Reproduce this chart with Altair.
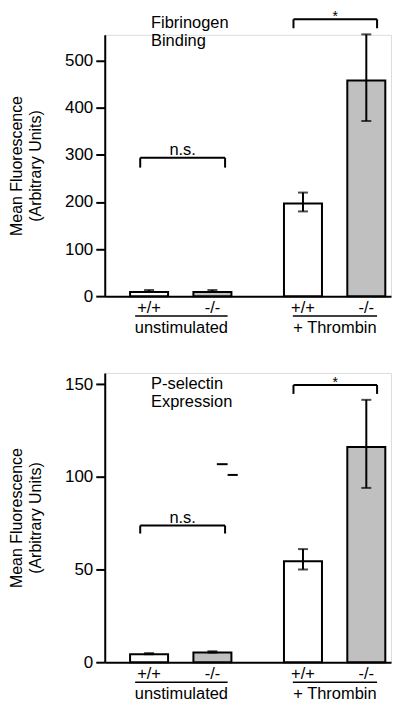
import altair as alt
import pandas as pd

# ---- data ----
genotypes = ["+/+", "-/-", "+/+", "-/-"]
conditions = ["unstimulated", "unstimulated", "+ Thrombin", "+ Thrombin"]
x_pos = [1.0, 2.0, 3.43, 4.43]

fib_mean = [9, 9, 197, 458]
fib_lo = [9, 9, 180, 372]
fib_hi = [13, 13, 220, 556]

psel_mean = [4.3, 5.2, 54.5, 116]
psel_lo = [4.3, 5.2, 50, 94]
psel_hi = [4.9, 5.9, 61, 141.5]

group_names = ["unstimulated", "+ Thrombin"]
group_start = [0.78, 3.27]
group_end = [2.24, 4.60]

sig_labels = ["n.s.", "*"]
sig_start = [0.86, 3.28]
sig_end = [2.20, 4.60]
fib_sig_y = [294, 588]
fib_sig_drop = [273, 569]
psel_sig_y = [73.7, 149.5]
psel_sig_drop = [69.4, 144.7]

psel_marks_x = [2.07, 2.24]
psel_marks_x2 = [2.24, 2.40]
psel_marks_y = [106.8, 101]

FONT = "Liberation Sans"
FS = 16.5
XS = alt.Scale(domain=[0.3, 4.82], nice=False, zero=False)
Y_TITLE = ["Mean Fluorescence", "(Arbitrary Units)"]


def panel(mean, lo, hi, ymax, ticks, title, title_y, sig_y, sig_drop, height,
          extra=None):
    ys = alt.Scale(domain=[0, ymax], nice=False, zero=False)
    df = pd.DataFrame({
        "x": x_pos,
        "xa": [p - 0.3 for p in x_pos],
        "xb": [p + 0.3 for p in x_pos],
        "mean": mean, "lo": lo, "hi": hi,
        "genotype": genotypes, "condition": conditions,
    })
    base = alt.Chart(df)
    bars = base.mark_rect(stroke="black", strokeWidth=2).encode(
        x=alt.X("xa:Q", scale=XS,
                axis=alt.Axis(labels=False, ticks=False, title=None, grid=False,
                              domainColor="black", domainWidth=2)),
        x2="xb:Q",
        y=alt.Y("mean:Q", scale=ys,
                axis=alt.Axis(values=ticks, grid=False, title=Y_TITLE,
                              tickSize=9, tickWidth=2, tickColor="black",
                              domainColor="black", domainWidth=2,
                              labelFontSize=17, labelFont=FONT, labelColor="black",
                              labelPadding=3,
                              titleFontSize=16, titleFont=FONT, titleColor="black",
                              titleFontWeight="normal", titleLineHeight=19,
                              titlePadding=21)),
        y2=alt.datum(0),
        fill=alt.Fill("genotype:N", legend=None,
                      scale=alt.Scale(domain=["+/+", "-/-"],
                                      range=["white", "#c0c0c0"])),
    )
    err = base.mark_rule(color="black", strokeWidth=2).encode(
        x=alt.X("x:Q", scale=XS), y=alt.Y("lo:Q", scale=ys), y2="hi:Q")
    cap_hi = base.mark_tick(orient="horizontal", size=10, thickness=2,
                            color="black").encode(
        x=alt.X("x:Q", scale=XS), y=alt.Y("hi:Q", scale=ys))
    cap_lo = base.mark_tick(orient="horizontal", size=10, thickness=2,
                            color="black").encode(
        x=alt.X("x:Q", scale=XS), y=alt.Y("lo:Q", scale=ys))
    geno_txt = base.mark_text(fontSize=FS, font=FONT, baseline="alphabetic",
                              dy=17, color="black").encode(
        x=alt.X("x:Q", scale=XS), y=alt.datum(0), text="genotype:N")

    gdf = pd.DataFrame({"name": group_names, "s": group_start, "e": group_end,
                        "m": [(a + b) / 2 for a, b in zip(group_start, group_end)]})
    gline = alt.Chart(gdf).mark_rule(color="black", strokeWidth=1.5,
                                     yOffset=20).encode(
        x=alt.X("s:Q", scale=XS), x2="e:Q", y=alt.datum(0))
    gtxt = alt.Chart(gdf).mark_text(fontSize=FS, font=FONT, baseline="alphabetic",
                                    dy=36.5, color="black").encode(
        x=alt.X("m:Q", scale=XS), y=alt.datum(0), text="name:N")

    sdf = pd.DataFrame({"label": sig_labels, "s": sig_start, "e": sig_end,
                        "y": sig_y, "d": sig_drop,
                        "m": [(a + b) / 2 for a, b in zip(sig_start, sig_end)]})
    sc = alt.Chart(sdf)
    s_top = sc.mark_rule(color="black", strokeWidth=2).encode(
        x=alt.X("s:Q", scale=XS), x2="e:Q", y=alt.Y("y:Q", scale=ys))
    s_l = sc.mark_rule(color="black", strokeWidth=2).encode(
        x=alt.X("s:Q", scale=XS), y=alt.Y("y:Q", scale=ys), y2="d:Q")
    s_r = sc.mark_rule(color="black", strokeWidth=2).encode(
        x=alt.X("e:Q", scale=XS), y=alt.Y("y:Q", scale=ys), y2="d:Q")
    s_ns = sc.transform_filter(alt.datum.label == "n.s.").mark_text(
        fontSize=FS, font=FONT, baseline="alphabetic", dy=-3,
        color="black").encode(
        x=alt.X("m:Q", scale=XS), y=alt.Y("y:Q", scale=ys), text="label:N")
    s_star = sc.transform_filter(alt.datum.label == "*").mark_text(
        fontSize=14, font=FONT, baseline="alphabetic", dy=1.5,
        color="black").encode(
        x=alt.X("m:Q", scale=XS), y=alt.Y("y:Q", scale=ys), text="label:N")

    tdf = pd.DataFrame({"t": [title], "x": [1.03], "y": [title_y]})
    ttl = alt.Chart(tdf).mark_text(fontSize=FS, font=FONT, align="left",
                                   baseline="top", lineBreak="\n",
                                   lineHeight=18, color="black").encode(
        x=alt.X("x:Q", scale=XS), y=alt.Y("y:Q", scale=ys), text="t:N")

    layers = [bars, err, cap_hi, cap_lo, geno_txt, gline, gtxt,
              s_top, s_l, s_r, s_ns, s_star, ttl]
    if extra is not None:
        edf = pd.DataFrame({"x": extra[0], "x2": extra[1], "y": extra[2]})
        layers.append(alt.Chart(edf).mark_rule(color="black", strokeWidth=2).encode(
            x=alt.X("x:Q", scale=XS), x2="x2:Q", y=alt.Y("y:Q", scale=ys)))
    return alt.layer(*layers).properties(width=287, height=height)


top = panel(fib_mean, fib_lo, fib_hi, 555, [0, 100, 200, 300, 400, 500],
            "Fibrinogen\nBinding", 597, fib_sig_y, fib_sig_drop, 262)
bottom = panel(psel_mean, psel_lo, psel_hi, 156, [0, 50, 100, 150],
               "P-selectin\nExpression", 154.5, psel_sig_y, psel_sig_drop, 290,
               extra=(psel_marks_x, psel_marks_x2, psel_marks_y))

chart = alt.vconcat(top, bottom, spacing=35, padding=0).configure_view(
    stroke=None).configure(background="white")

chart.save("out.html", embed_options={"renderer": "svg", "actions": False})
